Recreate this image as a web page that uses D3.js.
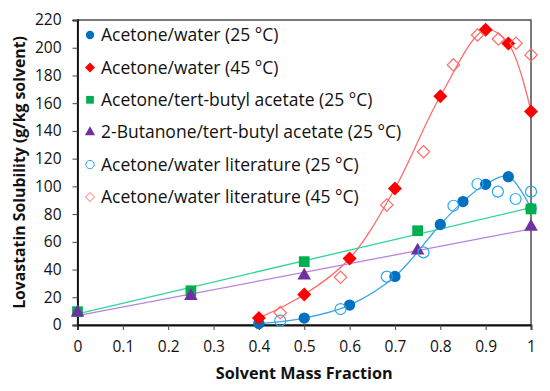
<!DOCTYPE html>
<html>
<head>
<meta charset="utf-8">
<script src="https://cdn.jsdelivr.net/npm/d3@7"></script>
<style>
  body { margin: 0; background: #fff; }
  svg { font-family: "Open Sans", sans-serif; }
</style>
</head>
<body>
<svg id="chart" width="550" height="391"></svg>
<script>
// measured series
const water25X = [0.4, 0.5, 0.6, 0.7, 0.8, 0.85, 0.9, 0.95, 1.0];
const water25Y = [1, 5, 14.4, 35, 72.5, 89, 101.5, 107, 84];
const water45X = [0.4, 0.5, 0.6, 0.7, 0.8, 0.9, 0.95, 1.0];
const water45Y = [5, 22, 48, 98.5, 165, 213, 203, 154];
const tbaX = [0, 0.25, 0.5, 0.75, 1.0];
const tbaY = [9.6, 24.7, 45.7, 68, 83.7];
const butX = [0, 0.25, 0.5, 0.75, 1.0];
const butY = [9, 20.9, 35.6, 53.6, 70.9];
const lit25X = [0.447, 0.58, 0.682, 0.763, 0.829, 0.882, 0.927, 0.966, 1.0];
const lit25Y = [3.1, 11.5, 34.9, 52.4, 86, 101.7, 96.2, 90.9, 96.2];
const lit45X = [0.447, 0.58, 0.682, 0.763, 0.829, 0.882, 0.928, 0.967, 1.0];
const lit45Y = [8.9, 34.4, 86.6, 125, 187.6, 209.2, 206.3, 203.2, 194.8];

const xTicks = [0, 0.1, 0.2, 0.3, 0.4, 0.5, 0.6, 0.7, 0.8, 0.9, 1];
const yTicks = [0, 20, 40, 60, 80, 100, 120, 140, 160, 180, 200, 220];

const legendLabels = [
  "Acetone/water (25 °C)",
  "Acetone/water (45 °C)",
  "Acetone/tert-butyl acetate (25 °C)",
  "2-Butanone/tert-butyl acetate (25 °C)",
  "Acetone/water literature (25 °C)",
  "Acetone/water literature (45 °C)"
];

const margin = { top: 20, right: 19, bottom: 66, left: 77.5 };
const width = 550, height = 391;

const svg = d3.select('#chart');

const x = d3.scaleLinear().domain([0, 1]).range([margin.left, width - margin.right]);
const y = d3.scaleLinear().domain([0, 220]).range([height - margin.bottom, margin.top]);

const zip = (xs, ys) => xs.map((v, i) => ({ x: v, y: ys[i] }));

// least squares for the linear trend lines
function fit(xs, ys) {
  const mx = d3.mean(xs), my = d3.mean(ys);
  let num = 0, den = 0;
  xs.forEach((v, i) => { num += (v - mx) * (ys[i] - my); den += (v - mx) * (v - mx); });
  const b = num / den;
  return [{ x: 0, y: my - b * mx }, { x: 1, y: my - b * mx + b }];
}

// frame
svg.append('rect')
  .attr('x', x(0)).attr('y', y(220))
  .attr('width', x(1) - x(0)).attr('height', y(0) - y(220))
  .attr('fill', 'none').attr('stroke', '#222').attr('stroke-width', 1.2);

const xAxis = svg.append('g')
  .attr('transform', `translate(0,${y(0)})`)
  .call(d3.axisBottom(x).tickValues(xTicks).tickSize(5).tickPadding(11).tickFormat(d3.format('')));
const yAxis = svg.append('g')
  .attr('transform', `translate(${x(0)},0)`)
  .call(d3.axisLeft(y).tickValues(yTicks).tickSize(5).tickPadding(11));

[xAxis, yAxis].forEach(g => {
  g.select('.domain').attr('stroke', '#111').attr('stroke-width', 1.8);
  g.selectAll('.tick line').attr('stroke', '#444');
  g.selectAll('text').attr('font-family', '"Open Sans", sans-serif')
    .attr('font-size', 15.5).attr('fill', '#111');
});

svg.append('text')
  .attr('x', (x(0) + x(1)) / 2).attr('y', 379)
  .attr('text-anchor', 'middle')
  .attr('font-size', 16.2).attr('font-weight', 'bold').attr('fill', '#111')
  .text('Solvent Mass Fraction');

svg.append('text')
  .attr('transform', `translate(25,${(y(0) + y(220)) / 2}) rotate(-90)`)
  .attr('text-anchor', 'middle')
  .attr('font-size', 15.8).attr('font-weight', 'bold').attr('fill', '#111')
  .text('Lovastatin Solubility (g/kg solvent)');

const smooth = d3.line().x(d => x(d.x)).y(d => y(d.y)).curve(d3.curveCatmullRom.alpha(0.5));
const straight = d3.line().x(d => x(d.x)).y(d => y(d.y));

svg.append('path').datum(zip(water25X, water25Y)).attr('d', smooth)
  .attr('fill', 'none').attr('stroke', '#38a6e6').attr('stroke-width', 1.3);
svg.append('path').datum(zip(water45X, water45Y)).attr('d', smooth)
  .attr('fill', 'none').attr('stroke', '#ff6b6b').attr('stroke-width', 1.3);
svg.append('path').datum(fit(tbaX, tbaY)).attr('d', straight)
  .attr('fill', 'none').attr('stroke', '#2ed59a').attr('stroke-width', 1.3);
svg.append('path').datum(fit(butX, butY)).attr('d', straight)
  .attr('fill', 'none').attr('stroke', '#b784dc').attr('stroke-width', 1.3);

const sym = (type, size) => d3.symbol().type(type).size(size)();
const diamond = s => `M0,${-s}L${s},0L0,${s}L${-s},0Z`;

const series = [
  { xs: water25X, ys: water25Y, shape: () => sym(d3.symbolCircle, 100), fill: '#0070c0', stroke: 'none' },
  { xs: water45X, ys: water45Y, shape: () => diamond(7), fill: '#ff0000', stroke: 'none' },
  { xs: tbaX, ys: tbaY, shape: () => sym(d3.symbolSquare, 115), fill: '#00b050', stroke: 'none' },
  { xs: butX, ys: butY, shape: () => sym(d3.symbolTriangle, 80), fill: '#7030a0', stroke: 'none' },
  { xs: lit25X, ys: lit25Y, shape: () => sym(d3.symbolCircle, 95), fill: 'none', stroke: '#2aa5ea' },
  { xs: lit45X, ys: lit45Y, shape: () => diamond(6.2), fill: 'none', stroke: '#ff6b6b' }
];

series.forEach(s => {
  svg.append('g').selectAll('path')
    .data(zip(s.xs, s.ys))
    .join('path')
    .attr('transform', d => `translate(${x(d.x)},${y(d.y)})`)
    .attr('d', s.shape)
    .attr('fill', s.fill)
    .attr('stroke', s.stroke)
    .attr('stroke-width', 1.2);
});

// legend
const legend = svg.append('g');
const legendShapes = [
  () => sym(d3.symbolCircle, 55),
  () => diamond(5),
  () => sym(d3.symbolSquare, 60),
  () => sym(d3.symbolTriangle, 45),
  () => sym(d3.symbolCircle, 55),
  () => diamond(4.5)
];
legendLabels.forEach((label, i) => {
  const ly = 35 + i * 32.4;
  legend.append('path')
    .attr('transform', `translate(90,${ly})`)
    .attr('d', legendShapes[i])
    .attr('fill', series[i].fill)
    .attr('stroke', series[i].stroke)
    .attr('stroke-width', 1);
  legend.append('text')
    .attr('x', 101).attr('y', ly)
    .attr('dy', '0.35em')
    .attr('font-size', 17.5).attr('fill', '#111')
    .text(label);
});
</script>
</body>
</html>
